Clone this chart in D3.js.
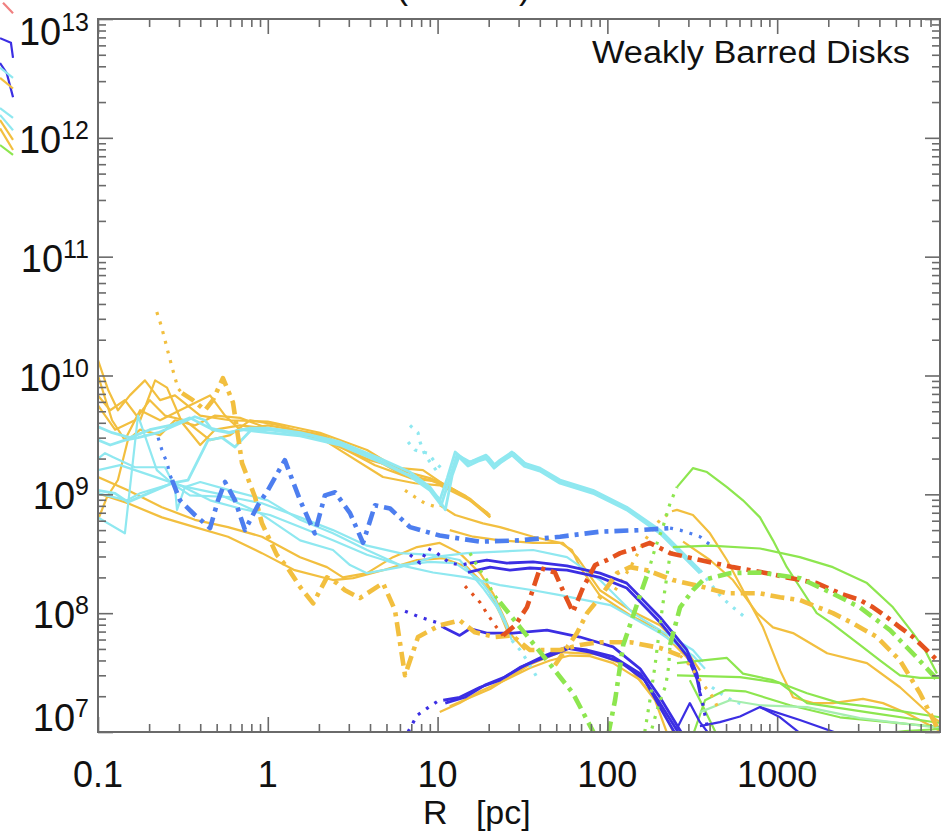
<!DOCTYPE html>
<html><head><meta charset="utf-8">
<script src="https://cdn.jsdelivr.net/npm/d3@7"></script>
<style>body{margin:0;background:#fff;}svg{display:block;}</style>
</head><body>
<svg id="chart" width="943" height="833"></svg>
<script>
// ---------------- data ----------------
const xTickValues = [0.1, 1, 10, 100, 1000];
const xTickLabels = ["0.1", "1", "10", "100", "1000"];
const yTickExponents = [7, 8, 9, 10, 11, 12, 13];
const panelLabel = "Weakly Barred Disks";
const xAxisTitle = "R   [pc]";
const clippedTitleMarks = ["(", ")"];

// orange solid, upper noisy bundle
const orange1 = [[0.1,1.35e10],[0.115,7.5e9],[0.131,5.1e9],[0.154,6.8e9],[0.189,9.1e9],[0.232,6.2e9],[0.284,6.8e9],[0.40,4.6e9],[0.60,4.2e9],[1.0,4.1e9],[2.03,3.3e9],[3.84,2.36e9],[6.0,1.6e9],[9.0,1.37e9],[11.8,1.15e9],[15.5,8.9e8],[20.4,6.4e8]];
const orange2 = [[0.1,1.0e10],[0.121,4.2e9],[0.144,2.86e9],[0.177,5.1e9],[0.232,4.2e9],[0.304,5.1e9],[0.457,6.8e9],[0.56,4.6e9],[0.686,3.5e9],[1.0,3.8e9],[2.03,3.2e9],[3.84,2.14e9],[6.0,1.5e9],[9.0,1.32e9],[12.7,1.08e9],[16.6,8.4e8],[20.4,6.4e8]];
const orange3 = [[0.1,6.8e9],[0.118,5.1e9],[0.144,6.2e9],[0.177,4.2e9],[0.217,9.1e9],[0.255,7.9e9],[0.313,4.0e9],[0.40,2.6e9],[0.489,3.5e9],[0.686,3.8e9],[1.0,3.6e9],[2.03,3.1e9],[4.28,1.76e9],[6.9,1.37e9],[10.3,1.27e9],[14.5,9.8e8],[20.4,6.7e8]];
const orange4 = [[0.1,5.6e9],[0.126,3.5e9],[0.165,4.2e9],[0.202,6.2e9],[0.248,4.6e9],[0.325,4.2e9],[0.457,2.86e9],[0.60,3.15e9],[0.785,4.2e9],[1.18,3.8e9],[2.03,3.0e9],[4.77,1.4e9],[7.36,1.24e9],[10.3,1.19e9],[15.5,8.9e8],[19.8,6.95e8]];
const orange5 = [[0.1,6.1e8],[0.113,9.5e8],[0.131,1.32e9],[0.150,2.86e9],[0.177,3.5e9],[0.232,3.15e9],[0.284,4.2e9],[0.372,3.8e9],[0.489,4.6e9],[0.686,4.4e9],[1.0,3.6e9],[2.03,2.95e9],[4.0,1.94e9],[6.0,1.66e9],[8.2,1.6e9],[11.1,1.19e9],[15.5,9.2e8],[20.4,6.5e8]];
const orange6Dots = [[6.43,1.08e9],[7.36,9.5e8],[8.43,8.4e8],[9.92,7.8e8]];
const orange6 = [[10.3,8.1e8],[12.7,6.7e8],[18.5,5.7e8],[23.3,5.3e8],[36.5,4.4e8],[52.6,3.9e8],[61.8,3.4e8],[69,2.44e8],[90,1.42e8],[136,9.6e7],[204,7.2e7],[306,4.0e7]];
const orange7 = [[11.8,5.0e8],[16.2,4.4e8],[23.3,4.1e8],[36.5,3.9e8],[54.8,3.9e8],[66.2,2.96e8],[90.4,1.56e8],[136,1.06e8],[204,7.9e7],[306,4.4e7],[351,3.3e7]];
// orange solid, lower-left group
const orange8 = [[0.1,1.4e9],[0.150,1.08e9],[0.238,7.8e8],[0.372,6.1e8],[0.583,5.3e8],[0.924,4.4e8],[1.55,2.96e8],[2.23,2.44e8],[2.77,2.0e8],[3.84,2.17e8],[5.46,2.96e8],[7.57,3.6e8],[10.3,3.9e8],[13.5,3.2e8],[17.8,2.17e8],[21.2,1.47e8],[24.3,9.6e7],[27.4,6.5e7],[32.7,4.9e7]];
const orange9 = [[0.1,1.02e9],[0.150,8.4e8],[0.238,6.4e8],[0.372,5.3e8],[0.583,4.4e8],[0.924,3.2e8],[1.44,2.3e8],[2.42,1.9e8],[3.18,1.97e8],[4.77,2.3e8],[7.57,2.8e8],[10.8,2.9e8],[14.9,2.44e8],[19.5,1.66e8],[23.3,1.0e8],[25.6,7.2e7]];
// orange solid following the lowest violet profile
const orangeLow1 = [[10.3,1.47e7],[13.5,1.75e7],[17.8,2.2e7],[24.9,2.73e7],[35,3.45e7],[45.9,4.0e7],[60.2,4.4e7],[79,4.35e7],[108,3.8e7],[156,2.73e7],[204,1.68e7],[250,9.4e6]];
const orangeLow2 = [[11.8,1.65e7],[20.4,2.3e7],[35,3.7e7],[52.6,4.7e7],[90.4,4.5e7],[136,3.45e7],[191,1.85e7],[227,9.4e6]];
// orange right side
const orangeR1Dots = [[111,1.56e8],[136,2.4e8],[166,4.1e8],[204,6.1e8],[240,7.2e8]];
const orangeR1 = [[240,7.2e8],[257,7.4e8],[319,6.7e8],[402,4.7e8],[506,2.8e8],[629,1.56e8],[825,7.6e7],[1040,3.3e7],[1240,1.96e7],[1630,1.75e7],[2130,1.75e7],[3200,1.9e7],[4200,1.75e7],[5810,1.44e7],[8270,1.1e7],[9100,1.02e7]];
const orangeR2 = [[279,4.0e8],[402,2.8e8],[549,1.9e8],[760,1.0e8],[945,7.6e7],[1240,6.8e7],[1970,4.6e7],[3380,3.8e7],[5290,2.38e7],[8270,1.33e7],[9100,1.21e7]];
// orange dash-dot profiles
const orangeDashR = [[49.1,3.65e7],[66.2,6.8e7],[75.9,1.0e8],[90.4,1.36e8],[114,2.17e8],[136,2.44e8],[171,2.3e8],[243,1.9e8],[366,1.66e8],[506,1.47e8],[792,1.47e8],[1040,1.36e8],[1360,1.29e8],[2130,1.0e8],[2800,8.2e7],[3870,6.3e7],[5290,4.0e7],[6940,2.12e7],[8730,1.1e7]];
const orangeSpikeDots = [[0.222,3.42e10],[0.235,2.66e10],[0.248,1.99e10],[0.261,1.49e10],[0.276,1.11e10],[0.296,7.8e9],[0.313,7.1e9]];
const orangeDashL = [[0.313,7.1e9],[0.362,6.2e9],[0.427,5.1e9],[0.475,6.2e9],[0.544,9.5e9],[0.583,7.5e9],[0.624,5.9e9],[0.705,1.83e9],[0.841,9.5e8],[0.924,5.7e8],[1.13,3.1e8],[1.30,2.44e8],[1.55,1.66e8],[1.85,1.21e8],[2.23,2.0e8],[2.55,1.79e8],[2.85,1.56e8],[3.49,1.34e8],[4.77,1.79e8],[5.61,1.06e8],[6.43,3.0e7],[7.67,6.3e7],[10.3,7.9e7],[13.5,8.7e7],[16.6,6.9e7],[21.8,6.3e7],[27.4,6.5e7],[35,4.9e7],[52.6,4.9e7],[69,5.4e7],[90.4,5.7e7],[136,5.7e7],[204,5.1e7],[268,4.4e7]];
const orangeDashLTail = [[268,4.4e7],[306,3.65e7],[351,2.73e7],[419,1.96e7],[460,1.47e7]];

// cyan solid, upper bundle continuing into zig-zag
const cyan1 = [[0.1,3.7e9],[0.121,3.3e9],[0.154,3.0e9],[0.202,3.5e9],[0.266,3.8e9],[0.348,4.4e9],[0.457,3.6e9],[0.60,3.3e9],[0.785,3.6e9],[1.0,3.6e9],[1.55,3.3e9],[2.66,2.76e9],[4.58,2.0e9],[6.88,1.54e9],[9.02,1.15e9],[10.3,8.9e8],[11.4,1.37e9],[12.7,2.27e9],[15.1,1.83e9],[17.3,2.0e9],[19.3,2.14e9],[21.5,1.76e9],[23.3,1.94e9],[27.4,2.27e9],[32.3,1.83e9],[40.1,1.66e9],[52.6,1.32e9],[82.3,1.08e9],[130,7.8e8],[204,5.0e8],[351,2.3e8]];
const cyan1Tail = [[351,2.3e8],[402,1.79e8],[470,1.36e8],[549,1.12e8],[646,9.25e7]];
const cyan2 = [[0.1,2.86e9],[0.118,2.6e9],[0.144,2.86e9],[0.172,3.0e9],[0.226,3.3e9],[0.273,3.7e9],[0.372,4.5e9],[0.427,4.2e9],[0.469,3.5e9],[0.583,3.3e9],[0.705,3.5e9],[1.0,3.3e9],[1.55,3.1e9],[2.66,2.6e9],[4.58,1.87e9],[6.88,1.42e9],[9.02,1.08e9],[10.5,8.1e8],[11.6,1.27e9],[13.0,2.14e9],[15.1,1.73e9],[17.3,1.9e9],[19.3,2.0e9],[21.5,1.66e9],[23.3,1.83e9],[27.4,2.14e9],[32.3,1.73e9],[40.1,1.57e9],[52.6,1.24e9],[82.3,1.02e9],[130,7.4e8],[204,4.7e8],[351,2.17e8]];
const cyan3 = [[0.1,1.08e9],[0.126,1.02e9],[0.150,8.6e8],[0.217,1.08e9],[0.273,1.24e9],[0.339,1.32e9],[0.445,2.86e9],[0.537,3.0e9],[0.641,2.5e9],[0.80,3.5e9],[1.0,3.5e9],[1.77,3.15e9],[3.05,2.5e9],[5.25,1.73e9],[7.88,1.3e9],[10.0,9.5e8],[11.1,7.4e8],[12.2,1.45e9],[13.4,2.1e9],[15.5,1.87e9],[17.8,2.0e9],[19.8,2.07e9],[22.0,1.73e9],[23.9,1.9e9],[28.1,2.22e9],[33.1,1.8e9],[40.1,1.6e9],[52.6,1.28e9],[82.3,1.06e9],[130,7.6e8],[204,4.85e8],[351,2.25e8]];
const cyanDots1 = [[6.88,3.8e9],[7.67,3.3e9],[7.88,2.76e9],[8.43,2.14e9],[9.02,1.87e9],[10.0,1.54e9]];
const cyanDots2 = [[6.7,2.76e9],[7.36,2.36e9],[8.78,2.22e9],[9.66,1.87e9],[10.8,1.6e9]];
// cyan solid, lower group
const cyan4 = [[0.1,2.0e9],[0.11,2.22e9],[0.123,2.05e9],[0.165,1.69e9],[0.248,1.69e9],[0.284,1.15e9],[0.292,7.4e8],[0.325,1.15e9],[0.40,1.27e9],[0.60,1.08e9],[1.0,8.9e8],[1.55,6.1e8],[2.42,4.7e8],[3.84,3.4e8],[6.0,2.54e8],[9.4,2.2e8],[14.9,2.0e8],[23.3,1.72e8],[36.5,1.56e8],[52.6,1.42e8],[104,1.17e8],[204,6.8e7],[319,4.4e7],[376,3.4e7]];
const cyan5 = [[0.1,6.4e8],[0.144,4.7e8],[0.172,4.6e9],[0.222,1.6e9],[0.273,1.24e9],[0.348,9.8e8],[0.60,9.5e8],[0.924,8.4e8],[1.55,6.4e8],[2.42,5.0e8],[3.84,3.7e8],[6.0,3.2e8],[9.4,3.1e8],[13.5,2.8e8],[18.5,1.63e8],[22.4,1.12e8],[25.6,7.6e7],[27.4,5.9e7]];
const cyan5Tail = [[27.4,5.9e7],[30.6,4.9e7],[33.6,4.0e7],[36.5,3.3e7],[39.3,2.73e7]];
const cyan6 = [[0.1,1.02e9],[0.148,8.9e8],[0.177,1.02e9],[0.276,1.24e9],[0.334,1.15e9],[0.50,1.02e9],[0.899,6.95e8],[1.55,4.1e8],[2.42,3.4e8],[3.05,2.54e8],[3.84,2.17e8],[6.0,2.44e8],[9.4,2.96e8],[14.9,3.2e8],[36.5,3.4e8],[57.8,2.96e8],[90.4,1.9e8],[142,1.0e8],[204,7.2e7],[319,4.9e7],[366,3.9e7]];
const cyan7 = [[0.1,1.6e9],[0.135,1.76e9],[0.202,1.45e9],[0.304,1.19e9],[0.457,8.9e8],[0.686,7.6e8],[1.03,6.7e8],[1.55,5.3e8],[2.42,4.1e8],[3.84,3.1e8],[6.0,2.54e8],[9.0,2.7e8],[12.7,2.64e8],[17.8,1.9e8],[21.8,1.29e8],[24.9,8.7e7],[26.7,6.5e7]];
const cyanDots3 = [[413,2.38e7],[472,2.08e7],[539,1.85e7],[620,1.72e7]];

// blue dash-dot profile
const blueDots = [[0.226,3.0e9],[0.238,2.36e9],[0.255,1.83e9],[0.266,1.45e9],[0.273,1.32e9]];
const blueDash = [[0.273,1.32e9],[0.304,8.9e8],[0.372,6.7e8],[0.457,5.2e8],[0.509,8.9e8],[0.56,1.27e9],[0.641,8.9e8],[0.734,5.0e8],[0.875,8.1e8],[1.0,1.08e9],[1.26,1.94e9],[1.55,8.9e8],[1.89,4.7e8],[2.17,9.8e8],[2.49,1.04e9],[3.05,6.95e8],[3.64,3.9e8],[4.28,8.1e8],[5.25,7.6e8],[6.88,5.3e8],[10.3,4.5e8],[17.8,4.0e8],[30.6,4.1e8],[52.6,4.4e8],[90.4,4.85e8],[156,5.0e8],[234,5.2e8]];
const blueDashTail = [[234,5.2e8],[268,5.0e8],[306,4.7e8],[351,4.4e8],[413,3.65e8]];

// violet solid profiles
const violet1Dots = [[6.88,3.1e8],[7.88,2.64e8],[8.78,3.5e8],[9.92,3.2e8],[11.8,2.64e8],[13.8,2.54e8],[15.5,2.64e8]];
const violet1 = [[15.5,2.64e8],[19.5,2.8e8],[25.6,2.64e8],[36.5,2.7e8],[57.8,2.5e8],[90.4,2.17e8],[130,1.79e8],[204,9.25e7],[294,4.9e7],[337,3.1e7],[351,2.25e7]];
const violet1b = [[15.1,2.2e8],[20.4,2.44e8],[26.7,2.3e8],[35,2.4e8],[57.8,2.3e8],[90.4,2.0e8],[130,1.63e8],[204,8.4e7],[294,4.4e7],[337,2.8e7],[351,2.12e7]];
const violet1Tail = [[351,2.12e7],[361,1.85e7],[371,1.52e7],[381,1.26e7],[391,1.04e7]];
const violet2Dots = [[6.43,1.04e8],[7.67,9.4e7],[9.02,8.7e7],[10.3,8.2e7],[10.8,7.6e7]];
const violet2 = [[10.8,7.6e7],[13.5,6.5e7],[15.5,7.4e7],[19.5,6.8e7],[27.8,6.8e7],[44.1,7.2e7],[69,6.3e7],[108,5.2e7],[156,3.4e7],[204,1.96e7],[279,9.4e6]];
const violet3Dots = [[6.7,1.0e7],[7.57,1.38e7],[8.66,1.58e7],[9.92,1.8e7],[10.8,1.85e7]];
const violet3 = [[10.8,1.85e7],[13.5,1.96e7],[17.8,2.38e7],[23.3,2.73e7],[30.6,3.5e7],[38.5,4.0e7],[50.5,4.6e7],[60.2,5.1e7],[75.9,4.9e7],[108,4.3e7],[156,3.1e7],[204,1.75e7],[268,9.4e6]];
const violet3b = [[11.1,1.75e7],[14.5,1.96e7],[19.0,2.48e7],[24.9,2.9e7],[32.7,3.65e7],[42.9,4.4e7],[56.3,5.1e7],[79,4.7e7],[119,3.9e7],[166,2.73e7],[209,1.52e7],[254,9.4e6]];
const violet4 = [[257,1.07e7],[306,1.75e7],[351,1.21e7],[402,9.4e6]];
const violet5 = [[351,1.12e7],[460,1.21e7],[604,1.35e7],[792,1.62e7],[1040,1.33e7],[1360,9.8e6]];
const violet6 = [[792,1.62e7],[1360,1.26e7],[2250,9.8e6]];

// red dash-dot profile
const redDots = [[14.5,1.69e8],[15.9,1.47e8],[17.8,1.23e8],[19.5,1.0e8],[21.8,7.9e7],[24.3,6.5e7]];
const redDash = [[24.3,6.5e7],[28.6,7.9e7],[33.6,1.12e8],[40.1,2.4e8],[49.1,2.2e8],[56.3,1.42e8],[62.7,1.02e8],[71.8,1.63e8],[84.6,2.54e8],[99.5,2.8e8],[119,3.2e8],[145,3.5e8],[178,3.9e8],[234,3.2e8],[351,2.8e8],[549,2.44e8],[871,2.17e8],[1140,2.0e8],[1710,1.79e8],[2340,1.47e8],[3070,1.29e8],[3670,1.12e8],[4430,9.25e7],[5290,7.6e7],[6310,6.3e7],[7940,4.6e7],[9100,3.8e7]];

// green profiles
const green1Dots = [[15.5,3.2e8],[16.6,2.7e8],[17.8,2.3e8],[19.5,1.9e8],[21.2,1.47e8],[23.3,1.24e8]];
const green1Dash = [[23.3,1.24e8],[30.6,7.6e7],[44.1,4.0e7],[62.7,2.12e7],[84.6,9.4e6]];
const green2Dash = [[101,9.4e6],[111,1.85e7],[124,5.4e7],[156,1.42e8],[173,2.17e8]];
const green2Dots = [[173,2.17e8],[191,3.5e8],[214,5.5e8],[234,8.4e8],[257,1.15e9]];
const green2 = [[257,1.15e9],[319,1.66e9],[386,1.54e9],[506,1.15e9],[629,8.9e8],[792,6.4e8],[945,4.1e8],[1140,2.44e8],[1360,1.66e8],[1710,1.0e8],[2050,8.4e7],[3070,5.4e7],[4030,4.0e7],[5290,3.0e7],[6940,2.85e7],[9100,2.85e7]];
const green3Dots = [[166,1.0e7],[178,1.85e7],[191,3.65e7],[204,7.9e7],[218,1.56e8],[234,3.1e8],[243,3.6e8]];
const green3 = [[243,3.6e8],[402,3.7e8],[792,3.5e8],[1360,2.96e8],[2130,2.44e8],[3380,1.79e8],[4810,1.12e8],[6310,6.8e7],[7420,4.9e7],[8730,3.1e7]];
const green4Dots = [[183,1.07e7],[200,1.68e7],[221,2.48e7],[230,3.65e7],[234,5.4e7]];
const green4Dash = [[234,5.4e7],[268,1.12e8],[319,1.56e8],[366,1.9e8],[527,2.17e8],[792,2.2e8],[1360,1.97e8],[2050,1.5e8],[3070,1.12e8],[4620,7.2e7],[6480,4.4e7],[9100,2.6e7]];
const green5 = [[257,3.8e7],[506,4.2e7],[629,3.1e7],[945,2.73e7],[1500,2.12e7],[2340,1.75e7],[3670,1.62e7],[5810,1.47e7],[9100,1.33e7]];
const green6 = [[257,3.0e7],[604,2.9e7],[1040,2.58e7],[1500,1.75e7],[3670,1.44e7],[9100,1.19e7]];
const green7 = [[306,2.73e7],[351,1.85e7],[419,1.1e7],[442,9.4e6]];
const green8 = [[319,9.4e6],[376,1.85e7],[493,2.25e7],[646,2.2e7],[1190,1.68e7],[2340,1.33e7],[9100,1.1e7]];
const green9 = [[351,1.47e7],[527,1.85e7],[792,1.68e7],[1500,1.62e7],[3070,1.31e7],[9100,1.08e7]];
const green10 = [[3520,9.4e6],[5660,1.02e7],[9100,1.06e7]];

// fragments of the neighbouring panel (its outer radii), visible at the left edge
const nbRed = [[7840,1.37e13],[8980,1.12e13]];
const nbBlue1 = [[7530,6.9e12],[8730,6.3e12],[8980,4.7e12]];
const nbBlue2 = [[7530,4.26e12],[8250,3.5e12],[8980,2.2e12]];
const nbCyan1 = [[7530,3.9e12],[8980,3.2e12]];
const nbOrange1 = [[7530,3.2e12],[8980,2.6e12]];
const nbCyan2 = [[7530,1.78e12],[8980,1.47e12]];
const nbCyan3 = [[7530,1.56e12],[8980,1.16e12]];
const nbOrange2 = [[7530,1.41e12],[8980,9.6e11]];
const nbOrange3 = [[7530,1.2e12],[8980,7.9e11]];
const nbGreen = [[7530,8.7e11],[8980,7.2e11]];

// ---------------- styles (kept apart from the data) ----------------
const ORANGE = "#F2BF3F", CYAN = "#8FE8F0", BLUE = "#4D7EEF", VIOLET = "#3B2EE3",
      RED = "#E4521E", GREEN = "#8DE64F", MINT = "#A5EEAE";
const STYLE = {
  solid:   {w: 2.2, dash: null},
  thick:   {w: 2.8, dash: null},
  dot:     {w: 3.2, dash: "3,7"},
  dashdot: {w: 4.6, dash: "14,6,4,6"}
};
const seriesTable = [
  {d: orange1, c: ORANGE, s: "solid"}, {d: orange2, c: ORANGE, s: "solid"},
  {d: orange3, c: ORANGE, s: "solid"}, {d: orange4, c: ORANGE, s: "solid"},
  {d: orange5, c: ORANGE, s: "solid"}, {d: orange6Dots, c: ORANGE, s: "dot"},
  {d: orange6, c: ORANGE, s: "solid"}, {d: orange7, c: ORANGE, s: "solid"},
  {d: orange8, c: ORANGE, s: "solid"}, {d: orange9, c: ORANGE, s: "solid"},
  {d: orangeLow1, c: ORANGE, s: "solid"}, {d: orangeLow2, c: ORANGE, s: "solid"},
  {d: orangeR1Dots, c: ORANGE, s: "dot"}, {d: orangeR1, c: ORANGE, s: "solid"},
  {d: orangeR2, c: ORANGE, s: "solid"},
  {d: cyan4, c: CYAN, s: "solid"}, {d: cyan5, c: CYAN, s: "solid"},
  {d: cyan5Tail, c: CYAN, s: "dot"}, {d: cyan6, c: CYAN, s: "solid"},
  {d: cyan7, c: CYAN, s: "solid"},
  {d: cyan1, c: CYAN, s: "thick"}, {d: cyan2, c: CYAN, s: "thick"}, {d: cyan3, c: CYAN, s: "thick"},
  {d: cyan1Tail, c: CYAN, s: "dot"}, {d: cyanDots1, c: CYAN, s: "dot"}, {d: cyanDots2, c: CYAN, s: "dot"},
  {d: cyanDots3, c: CYAN, s: "dot"},
  {d: green5, c: GREEN, s: "solid"}, {d: green6, c: GREEN, s: "solid"},
  {d: green7, c: GREEN, s: "solid"}, {d: green8, c: GREEN, s: "solid"},
  {d: green9, c: MINT, s: "solid"}, {d: green10, c: GREEN, s: "solid"},
  {d: violet1Dots, c: VIOLET, s: "dot"}, {d: violet1, c: VIOLET, s: "thick"},
  {d: violet1b, c: VIOLET, s: "thick"}, {d: violet1Tail, c: VIOLET, s: "dot"},
  {d: violet2Dots, c: VIOLET, s: "dot"}, {d: violet2, c: VIOLET, s: "thick"},
  {d: violet3Dots, c: VIOLET, s: "dot"}, {d: violet3, c: VIOLET, s: "thick"},
  {d: violet3b, c: VIOLET, s: "thick"},
  {d: violet4, c: VIOLET, s: "solid"}, {d: violet5, c: VIOLET, s: "solid"}, {d: violet6, c: VIOLET, s: "solid"},
  {d: green2, c: GREEN, s: "solid"}, {d: green3, c: GREEN, s: "solid"},
  {d: green3Dots, c: GREEN, s: "dot"}, {d: green2Dots, c: GREEN, s: "dot"},
  {d: green4Dots, c: GREEN, s: "dot"}, {d: green1Dots, c: GREEN, s: "dot"},
  {d: orangeSpikeDots, c: ORANGE, s: "dot"}, {d: orangeDashL, c: ORANGE, s: "dashdot"},
  {d: orangeDashLTail, c: ORANGE, s: "dot"}, {d: orangeDashR, c: ORANGE, s: "dashdot"},
  {d: blueDots, c: BLUE, s: "dot"}, {d: blueDash, c: BLUE, s: "dashdot"}, {d: blueDashTail, c: BLUE, s: "dot"},
  {d: redDots, c: RED, s: "dot"}, {d: redDash, c: RED, s: "dashdot"},
  {d: green1Dash, c: GREEN, s: "dashdot"}, {d: green2Dash, c: GREEN, s: "dashdot"},
  {d: green4Dash, c: GREEN, s: "dashdot"}
];
const neighbourTable = [
  {d: nbRed, c: "#F08080"}, {d: nbBlue1, c: VIOLET}, {d: nbBlue2, c: VIOLET},
  {d: nbCyan1, c: CYAN}, {d: nbOrange1, c: ORANGE}, {d: nbCyan2, c: CYAN},
  {d: nbCyan3, c: CYAN}, {d: nbOrange2, c: ORANGE}, {d: nbOrange3, c: ORANGE}, {d: nbGreen, c: GREEN}
];

// ---------------- layout ----------------
const L = 98, R = 940, T = 19, B = 732;
const svg = d3.select("#chart");
const x = d3.scaleLog().domain([0.1, 9100]).range([L, R]);
const y = d3.scaleLog().domain([1e7, 1e13]).range([B, T]);
// neighbouring panel: same geometry, its right edge sits at the image's left border
const xNb = d3.scaleLog().domain([0.1, 9100]).range([L - R + 14, 14]);

const defs = svg.append("defs");
defs.append("clipPath").attr("id", "plotclip")
  .append("rect").attr("x", L).attr("y", T).attr("width", R - L).attr("height", B - T);
defs.append("clipPath").attr("id", "nbclip")
  .append("rect").attr("x", 0).attr("y", 0).attr("width", 14).attr("height", 200);

const nbLine = d3.line().x(d => xNb(d[0])).y(d => y(d[1]));
const gNb = svg.append("g").attr("clip-path", "url(#nbclip)");
neighbourTable.forEach(sr => {
  gNb.append("path").attr("d", nbLine(sr.d)).attr("fill", "none")
    .attr("stroke", sr.c).attr("stroke-width", 2.2);
});

const line = d3.line().x(d => x(d[0])).y(d => y(d[1]));
const g = svg.append("g").attr("clip-path", "url(#plotclip)");
seriesTable.forEach(sr => {
  const st = STYLE[sr.s];
  g.append("path").attr("d", line(sr.d)).attr("fill", "none")
    .attr("stroke", sr.c).attr("stroke-width", st.w)
    .attr("stroke-linejoin", "round")
    .attr("stroke-dasharray", st.dash);
});

// ---------------- axes ----------------
const AX = "#6a6a6a";
const xMinor = [];
for (let e = -1; e <= 3; e++) for (let k = 2; k <= 9; k++) { const v = k * Math.pow(10, e); if (v <= 9100) xMinor.push(v); }
const yMinor = [];
for (let e = 7; e <= 12; e++) for (let k = 2; k <= 9; k++) yMinor.push(k * Math.pow(10, e));
const yMajor = yTickExponents.map(e => Math.pow(10, e));

function styleAxis(sel) {
  sel.select(".domain").remove();
  sel.selectAll(".tick line").attr("stroke", AX).attr("stroke-width", 1.6);
  sel.selectAll(".tick text").remove();
}
const mk = [
  [d3.axisBottom(x).tickValues(xTickValues).tickSize(-15), `translate(0,${B})`],
  [d3.axisBottom(x).tickValues(xMinor).tickSize(-8), `translate(0,${B})`],
  [d3.axisTop(x).tickValues(xTickValues).tickSize(-15), `translate(0,${T})`],
  [d3.axisTop(x).tickValues(xMinor).tickSize(-8), `translate(0,${T})`],
  [d3.axisLeft(y).tickValues(yMajor).tickSize(-15), `translate(${L},0)`],
  [d3.axisLeft(y).tickValues(yMinor).tickSize(-8), `translate(${L},0)`],
  [d3.axisRight(y).tickValues(yMajor).tickSize(-15), `translate(${R},0)`],
  [d3.axisRight(y).tickValues(yMinor).tickSize(-8), `translate(${R},0)`]
];
mk.forEach(([ax, tr]) => svg.append("g").attr("transform", tr).call(ax).call(styleAxis));
svg.append("rect").attr("x", L).attr("y", T).attr("width", R - L).attr("height", B - T)
  .attr("fill", "none").attr("stroke", AX).attr("stroke-width", 2);

// ---------------- text ----------------
const FONT = "'Liberation Sans', Arial, Helvetica, sans-serif";
xTickValues.forEach((v, i) => {
  svg.append("text").attr("x", x(v)).attr("y", 787).attr("text-anchor", "middle")
    .attr("font-family", FONT).attr("font-size", 36).attr("fill", "#111").text(xTickLabels[i]);
});
yTickExponents.forEach(e => {
  const by = Math.max(45, Math.min(731, y(Math.pow(10, e)) + 15));
  const t = svg.append("text").attr("x", 89).attr("y", by).attr("text-anchor", "end")
    .attr("font-family", FONT).attr("fill", "#111");
  t.append("tspan").attr("font-size", 38).text("10");
  t.append("tspan").attr("font-size", 25).attr("dy", -14).text(String(e));
});
svg.append("text").attr("x", 423).attr("y", 824).attr("font-family", FONT)
  .attr("font-size", 34).attr("fill", "#111").style("white-space", "pre").text(xAxisTitle);
svg.append("text").attr("x", 592).attr("y", 63).attr("font-family", FONT)
  .attr("font-size", 31).attr("fill", "#111").attr("textLength", 318)
  .attr("lengthAdjust", "spacingAndGlyphs").text(panelLabel);
// bottoms of the cropped figure title's parentheses (cut off at the top edge, as in the source)
svg.append("text").attr("x", 396).attr("y", -2).attr("font-family", FONT)
  .attr("font-size", 36).attr("fill", "#111").text(clippedTitleMarks[0]);
svg.append("text").attr("x", 519).attr("y", -2).attr("font-family", FONT)
  .attr("font-size", 36).attr("fill", "#111").text(clippedTitleMarks[1]);
</script>
</body></html>
